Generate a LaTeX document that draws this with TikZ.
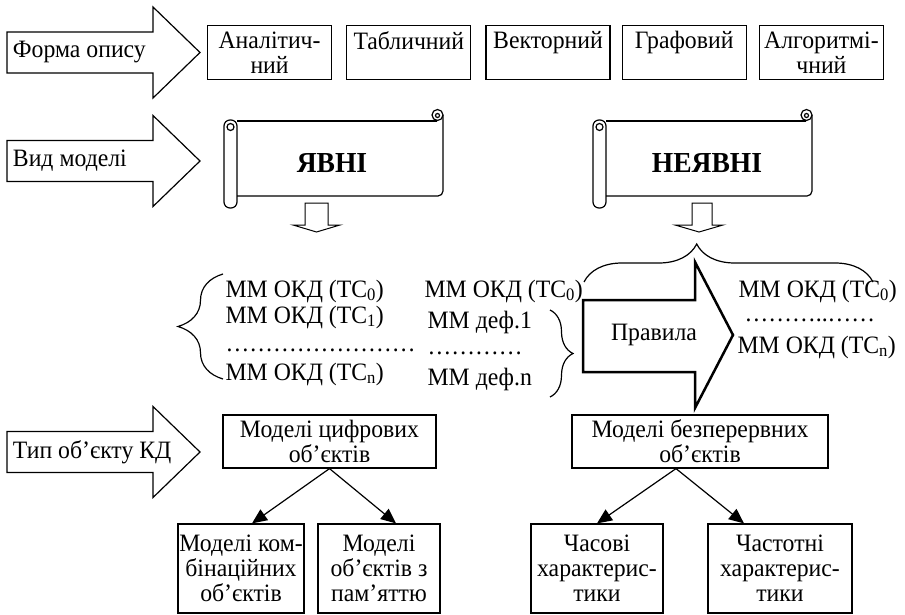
\documentclass[tikz,border=0pt]{standalone}
\usepackage{fontspec}
\setmainfont{Liberation Serif}[FakeStretch=0.95]
\usetikzlibrary{arrows.meta, decorations.pathreplacing, positioning}
\lineskiplimit=-10pt

\begin{document}
\begin{tikzpicture}[x=1pt, y=-1pt, line width=1.2pt,
  font=\fontsize{25}{25}\selectfont,
  formbox/.style={draw, rectangle, minimum width=124pt, minimum height=54pt, inner sep=1pt, align=center},
  treebox/.style={draw, rectangle, align=center, inner sep=1pt},
  mmtext/.style={anchor=west, inner sep=0pt},
  bigbold/.style={font=\bfseries\fontsize{29}{29}\selectfont},
  scrollbox/.pic={
    \draw[rounded corners=6pt] (0,120) rectangle (13,208);
    \draw (6.5,127) circle (3.5pt);
    \draw (13,121) -- (213,121);
    \draw[rounded corners=5pt] (13,196) -- (219,196) -- (219,115);
    \draw (213.5,115) circle (5.5pt);
    \draw (213.5,115.5) circle (2pt);
  }]
  \useasboundingbox (0,0) rectangle (905,615);

  % Forma opysu
  \draw (7,32) -- (153,32) -- (153,7) -- (200,52.5) -- (153,98) -- (153,73) -- (7,73) -- cycle;
  \node[anchor=west] (form) at (9,52.5) {Форма опису};
  \node[formbox, anchor=north west] (anal) at (207,25) {Аналітич-\\ний};
  \node[formbox, right=14pt of anal] (tabl) {Табличний\\\mbox{}};
  \node[formbox, right=14pt of tabl] (vect) {Векторний\\\mbox{}};
  \node[formbox, right=11pt of vect] (graf) {Графовий\\\mbox{}};
  \node[formbox, right=12pt of graf] (algo) {Алгоритмі-\\чний};

  % Vyd modeli
  \draw (7,140.5) -- (153,140.5) -- (153,115.5) -- (200,161) -- (153,206.5) -- (153,181.5) -- (7,181.5) -- cycle;
  \node[anchor=west] (kind) at (9,161) {Вид моделі};
  \pic at (224,0) {scrollbox};
  \node[bigbold] (expl) at (332,163) {ЯВНІ};
  \pic at (593,0) {scrollbox};
  \node[bigbold] (impl) at (707,163) {НЕЯВНІ};

  \draw[line width=1pt] (305,203) -- (328,203) -- (328,225) -- (340,225) -- (316.5,232) -- (293,225) -- (305,225) -- cycle;
  \draw[line width=1pt] (692,203) -- (712,203) -- (712,225) -- (723,225) -- (699,232) -- (675,225) -- (692,225) -- cycle;

  % lists
  \node[mmtext] (l0) at (225,291) {ММ ОКД (ТС\textsubscript{0})};
  \node[mmtext] (l1) at (225,317) {ММ ОКД (ТС\textsubscript{1})};
  \node[mmtext] (ldots) at (225,351) {\smash{……………………}};
  \node[mmtext] (ln) at (225,374) {ММ ОКД (ТС\textsubscript{n})};
  \draw[decorate, decoration={brace, amplitude=45pt}] (223,379) -- (223,274);

  \node[mmtext] (m0) at (424,291) {ММ ОКД (ТС\textsubscript{0})};
  \node[mmtext] (md1) at (427,322) {ММ деф.1};
  \node[mmtext] (mdots) at (427,354) {\smash{…………}};
  \node[mmtext] (mdn) at (427,379) {ММ деф.n};
  \draw[decorate, decoration={brace, amplitude=23pt}] (550,310) -- (550,397);

  \node[mmtext] (r0) at (738,291) {ММ ОКД (ТС\textsubscript{0})};
  \node[mmtext] (rdots) at (744,321) {\smash{………..……}};
  \node[mmtext] (rn) at (737,347) {ММ ОКД (ТС\textsubscript{n})};
  \draw[decorate, decoration={brace, amplitude=38pt, aspect=0.39}] (584,282) -- (873,282);

  \draw[line width=2.5pt] (583,300) -- (695,300) -- (695,262) -- (733,335) -- (695,408) -- (695,372) -- (583,372) -- cycle;
  \node (rules) at (654,335) {Правила};

  % Typ ob'ektu
  \draw (7,431.5) -- (153,431.5) -- (153,406.5) -- (200,452) -- (153,497.5) -- (153,472.5) -- (7,472.5) -- cycle;
  \node[anchor=west] (type) at (9,452) {Тип об’єкту КД};

  \node[treebox, minimum width=213pt, minimum height=53pt] (digi) at (329.5,441.5) {Моделі цифрових\\об’єктів};
  \node[treebox, minimum width=256pt, minimum height=53pt] (cont) at (700,441.5) {Моделі безперервних\\об’єктів};

  \node[treebox, minimum width=126pt, minimum height=89pt] (comb) at (241,568.5) {Моделі ком-\\бінаційних\\об’єктів};
  \node[treebox, minimum width=122pt, minimum height=89pt] (memo) at (379,568.5) {Моделі\\об’єктів з\\пам’яттю};
  \node[treebox, minimum width=132pt, minimum height=89pt] (time) at (597,568.5) {Часові\\характерис-\\тики};
  \node[treebox, minimum width=144pt, minimum height=89pt] (freq) at (780,568.5) {Частотні\\характерис-\\тики};

  \draw[-{Triangle[length=15pt,width=13pt]}] (digi.south) -- ([xshift=11pt]comb.north);
  \draw[-{Triangle[length=15pt,width=13pt]}] (digi.south) -- ([xshift=17pt]memo.north);
  \draw[-{Triangle[length=15pt,width=13pt]}] ([xshift=-24pt]cont.south) -- (time.north);
  \draw[-{Triangle[length=15pt,width=13pt]}] ([xshift=-24pt]cont.south) -- ([xshift=-36pt]freq.north);

\end{tikzpicture}
\end{document}
